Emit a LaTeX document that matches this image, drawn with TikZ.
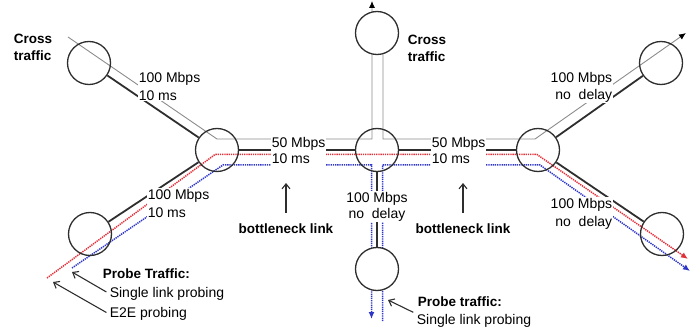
\documentclass[tikz,border=0pt]{standalone}
\usepackage{fontspec}
\setmainfont{Liberation Sans}
\usetikzlibrary{arrows.meta}
\definecolor{lk}{HTML}{2E2E2E}
\definecolor{gl}{HTML}{8C8C8C}
\definecolor{rd}{HTML}{E0303A}
\definecolor{bl}{HTML}{2E36C8}
\begin{document}
\begin{tikzpicture}[x=1pt,y=-1pt,
  router/.style={circle, draw=lk, line width=1.3pt, minimum size=43pt, inner sep=0pt},
  link/.style={draw=lk, line width=1.8pt},
  xtraf/.style={draw=gl, line width=0.9pt},
  redp/.style={draw=rd, line width=1.5pt, dash pattern=on 1.3pt off 0.9pt},
  bluep/.style={draw=bl, line width=1.5pt, dash pattern=on 1.3pt off 0.9pt},
  lbl/.style={fill=white, inner sep=0.6pt, font=\fontsize{14}{17}\selectfont},
  bld/.style={inner sep=0.6pt, font=\fontsize{13.5}{17}\selectfont\bfseries},
  ptr/.style={draw=lk, line width=1.1pt, -{Straight Barb[length=5pt,width=8pt]}},
  btip/.style={-{Latex[length=7pt,width=6pt,color=black]}},
  rtip/.style={-{Latex[length=7pt,width=6pt]}}
]
\useasboundingbox (0,0) rectangle (699,334);

% flow corner coordinates
\coordinate (x1s) at (68,37);
\coordinate (x1a) at (217,139);
\coordinate (x1b) at (372,139);
\coordinate (x1e) at (372,1);
\coordinate (x2s) at (383,53);
\coordinate (x2a) at (383,139);
\coordinate (x2b) at (535,139);
\coordinate (x2e) at (686,33);
\coordinate (r0) at (47,278);
\coordinate (r1) at (215,154.5);
\coordinate (r2) at (537,154.5);
\coordinate (r3) at (688,259);
\coordinate (b0) at (72,268);
\coordinate (b1) at (223,165);
\coordinate (b2) at (371.5,165);
\coordinate (b3) at (371.5,319);
\coordinate (c0) at (382.5,321);
\coordinate (c1) at (382.5,165);
\coordinate (c2) at (540,165);
\coordinate (c3) at (690,271);

% cross traffic
\draw[xtraf, btip] (x1s) -- (x1a) -- (x1b) -- (x1e);
\draw[xtraf, btip] (x2s) -- (x2a) -- (x2b) -- (x2e);
% probe traffic
\draw[redp, rtip] (r0) -- (r1) -- (r2) -- (r3);
\draw[bluep, rtip] (b0) -- (b1) -- (b2) -- (b3);
\draw[bluep, rtip] (c0) -- (c1) -- (c2) -- (c3);

% routers
\node[router] (A) at (89,63) {};
\node[router] (B) at (217,150) {};
\node[router] (C) at (90,234) {};
\node[router, fill=white] (D) at (377,33) {};
\node[router] (E) at (377,150) {};
\node[router, fill=white] (F) at (377,269) {};
\node[router] (G) at (538,150) {};
\node[router] (H) at (661,63) {};
\node[router] (I) at (662,234) {};

% physical links
\draw[link] (A) -- (B);
\draw[link] (B) -- (C);
\draw[link] (B) -- (E);
\draw[link] (E) -- (G);
\draw[link] (E) -- (F);
\draw[link] (G) -- (H);
\draw[link] (G) -- (I);

% link labels
\node[lbl, anchor=west, align=left, font=\fontsize{14}{18}\selectfont] (lAB) at (138,86) {100 Mbps\\10 ms};
\node[lbl, anchor=west, align=left, font=\fontsize{14}{18}\selectfont] (lBC) at (147,203) {100 Mbps\\10 ms};
\node[lbl, anchor=west, align=left, inner ysep=4.5pt, font=\fontsize{14}{16}\selectfont] (lBE) at (271,150) {50 Mbps\\10 ms};
\node[lbl, anchor=west, align=left, inner ysep=4.5pt, font=\fontsize{14}{16}\selectfont] (lEG) at (431,150) {50 Mbps\\10 ms};
\node[lbl, align=center, font=\fontsize{14}{16}\selectfont] (lEF) at (377,206.5) {100 Mbps\\no~ delay};
\node[lbl, anchor=east, align=right, font=\fontsize{14}{17}\selectfont] (lGH) at (613,87) {100 Mbps\\no~ delay};
\node[lbl, anchor=east, align=right, font=\fontsize{14}{18}\selectfont] (lGI) at (613,213.5) {100 Mbps\\no~ delay};

% cross traffic labels
\node[bld, anchor=west, align=left] (ct1) at (13,47.5) {Cross\\traffic};
\node[bld, anchor=west, align=left] (ct2) at (407,48.5) {Cross\\traffic};

% bottleneck labels
\node[bld] (bn1) at (286,229) {bottleneck link};
\node[bld] (bn2) at (463,229) {bottleneck link};
\coordinate (bh1) at (286,183);
\coordinate (bh2) at (463,183);
\draw[ptr, shorten <=10pt] (bn1.north) -- (bh1);
\draw[ptr, shorten <=10pt] (bn2.north) -- (bh2);

% probe traffic legend (left)
\node[bld, anchor=west] (pt1) at (102,274) {Probe Traffic:};
\node[lbl, anchor=west, fill=none] (sl1) at (109,293.5) {Single link probing};
\node[lbl, anchor=west, fill=none] (e2e) at (109,314) {E2E probing};
\coordinate (tb) at (72,272);
\coordinate (tr) at (53,282);
\draw[ptr, shorten <=3pt] (sl1.west) -- (tb);
\draw[ptr, shorten <=3pt] (e2e.west) -- (tr);

% probe traffic legend (bottom centre)
\node[bld, anchor=west] (pt2) at (417,302) {Probe traffic:};
\node[lbl, anchor=west, fill=none] (sl2) at (416,321) {Single link probing};
\coordinate (tc) at (388,300);
\draw[ptr, shorten <=3pt] (sl2.north west) -- (tc);
\end{tikzpicture}
\end{document}
